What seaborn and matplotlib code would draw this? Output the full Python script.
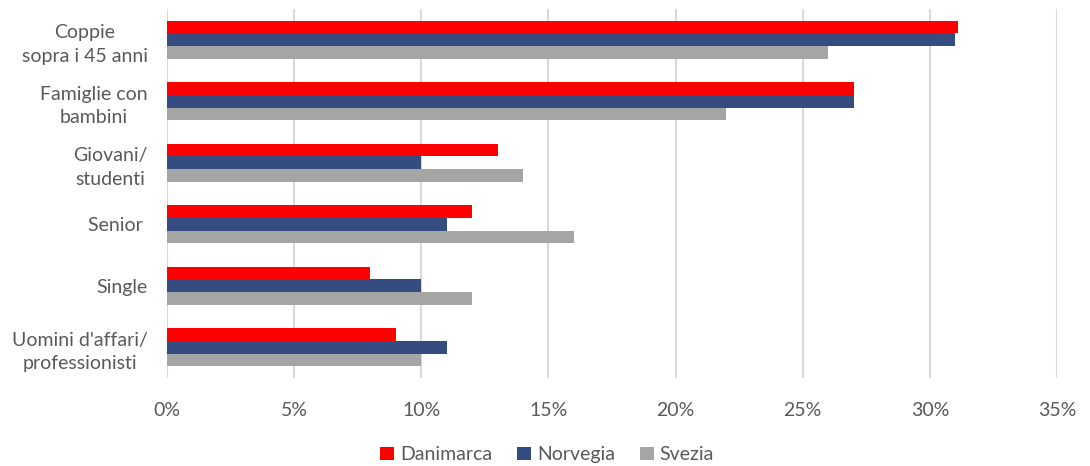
import pandas as pd
import numpy as np
import seaborn as sns
import matplotlib.pyplot as plt
from matplotlib.ticker import FuncFormatter

# categories and series values (percent)
categories = ["Coppie\nsopra i 45 anni", "Famiglie con\nbambini", "Giovani/\nstudenti",
              "Senior ", "Single", "Uomini d'affari/\nprofessionisti"]
danimarca = [31.1, 27, 13, 12, 8, 9]
norvegia = [31.0, 27, 10, 11, 10, 11]
svezia = [26, 22, 14, 16, 12, 10]
series = ["Danimarca", "Norvegia", "Svezia"]
colors = ["#FF0000", "#354C80", "#A5A5A5"]

data = pd.DataFrame({
    "categoria": categories * 3,
    "valore": danimarca + norvegia + svezia,
    "paese": [s for s in series for _ in categories],
})

sns.set_style("white")
plt.rcParams['font.family'] = ['Lato', 'DejaVu Sans']
text_color = "#595959"

fig = plt.figure(figsize=(10.9, 4.66), dpi=100)
ax = fig.add_axes([0.1532, 0.1888, 0.8165, 0.792])

sns.barplot(data=data, y="categoria", x="valore", hue="paese", orient="h",
            palette=colors, width=0.615, saturation=1, linewidth=0, ax=ax, legend=True)

ax.set_xlim(0, 35)
ax.set_xticks(np.arange(0, 36, 5))
ax.xaxis.set_major_formatter(FuncFormatter(lambda v, p: f"{v:.0f}%"))
ax.grid(axis="x", color="#D9D9D9", linewidth=1.5)
ax.set_axisbelow(True)
for s in ax.spines.values():
    s.set_visible(False)
ax.set_xlabel("")
ax.set_ylabel("")
ax.tick_params(axis="both", length=0, colors=text_color, labelsize=14)
ax.tick_params(axis="x", pad=17)
ax.tick_params(axis="y", pad=14)
for lbl in ax.get_yticklabels():
    lbl.set_multialignment("center")
    lbl.set_linespacing(1.45)

ax.legend(loc="center", bbox_to_anchor=(0.502, 0.024), bbox_transform=fig.transFigure,
          ncol=3, frameon=False, fontsize=14, handlelength=0.7, handleheight=0.7,
          handletextpad=0.3, columnspacing=1.3, labelcolor=text_color)

fig.savefig("out.png", dpi=100)
